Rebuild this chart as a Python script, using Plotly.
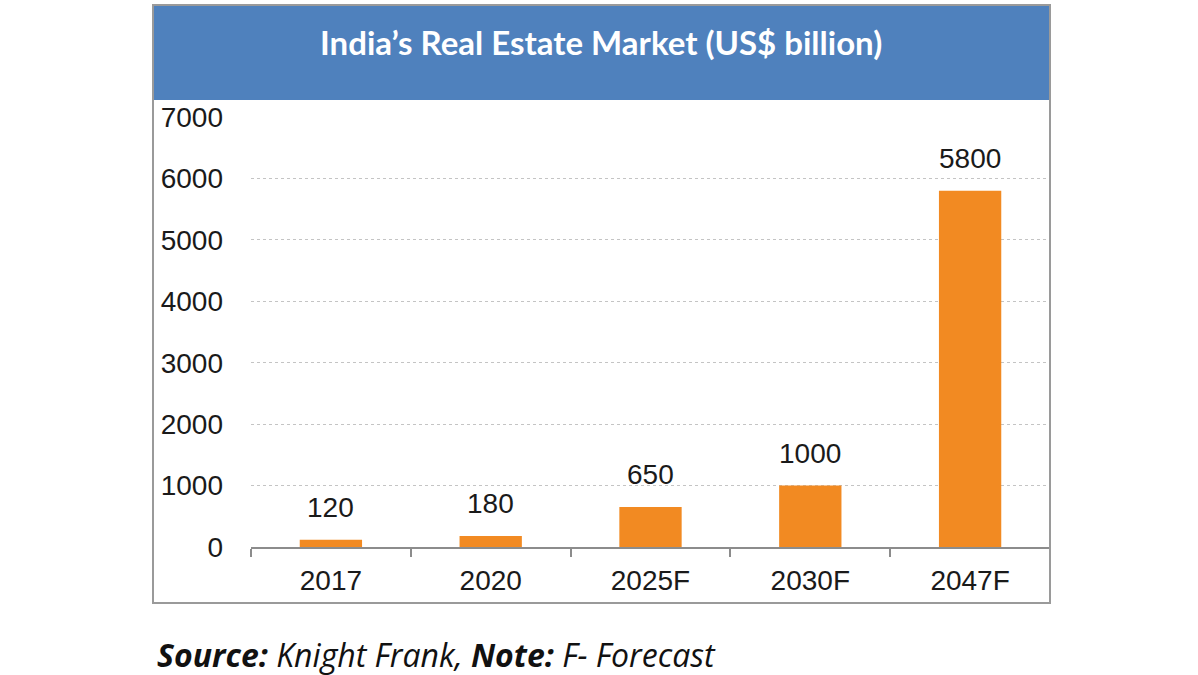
import plotly.graph_objects as go

categories = ["2017", "2020", "2025F", "2030F", "2047F"]
values = [120, 180, 650, 1000, 5800]
labels = ["120", "180", "650", "1000", "5800"]
y_ticks = [0, 1000, 2000, 3000, 4000, 5000, 6000, 7000]

W, H = 1198, 675
L, R, T, B = 251, 1050, 117, 547  # plot area in pixels


def px(x):
    return (x - L) / (R - L)


def py(y):
    return (B - y) / (B - T)


FONT = "Liberation Sans, Arial"

fig = go.Figure()
fig.add_trace(go.Bar(
    x=categories, y=values,
    marker=dict(color="#F28A22", line=dict(width=0)),
    hoverinfo="skip",
))

for i, (v, t) in enumerate(zip(values, labels)):
    fig.add_annotation(x=i, y=v, text=t, showarrow=False, yanchor="bottom",
                       yshift=15, font=dict(family=FONT, size=28, color="#1a1a1a"))

# Title band and outer border
fig.add_shape(type="rect", xref="paper", yref="paper",
              x0=px(153), x1=px(1050), y0=py(100), y1=py(5),
              fillcolor="#4F81BD", line=dict(width=0), layer="below")
fig.add_shape(type="rect", xref="paper", yref="paper",
              x0=px(153), x1=px(1050), y0=py(603), y1=py(5),
              fillcolor="rgba(0,0,0,0)", line=dict(color="#9A9A9A", width=2))

fig.add_annotation(xref="paper", yref="paper", x=px(601), y=py(42),
                   text="<b>India’s Real Estate Market (US$ billion)</b>",
                   showarrow=False, xanchor="center", yanchor="middle",
                   font=dict(family="Lato, Open Sans", size=33, color="white"))

fig.add_annotation(xref="paper", yref="paper", x=px(155), y=py(654),
                   text="<b><i>Source:</i></b><i> Knight Frank, </i><b><i>Note:</i></b><i> F- Forecast</i>",
                   showarrow=False, xanchor="left", yanchor="middle",
                   font=dict(family="Open Sans, Lato", size=32, color="#111111"))

fig.update_layout(
    width=W, height=H,
    margin=dict(l=L, r=W - R, t=T, b=H - B, pad=0),
    paper_bgcolor="white", plot_bgcolor="white",
    showlegend=False,
    bargap=0.61,
    xaxis=dict(
        type="category", range=[-0.5, 4.5],
        showline=True, linecolor="#8C8C8C", linewidth=1.5,
        ticks="outside", tickson="boundaries", ticklen=8, tickcolor="#8C8C8C", tickwidth=1.5,
        tickfont=dict(family=FONT, size=28, color="#1a1a1a"),
        showgrid=False, zeroline=False,
        ticklabelstandoff=8,
    ),
    yaxis=dict(
        range=[0, 7000], tickvals=y_ticks, ticktext=[str(v) for v in y_ticks],
        showline=False, ticks="",
        showgrid=True, gridcolor="#C4C4C4", gridwidth=1, griddash="dot",
        zeroline=False,
        tickfont=dict(family=FONT, size=28, color="#1a1a1a"),
        ticklabelstandoff=27,
    ),
)

fig.write_html("out.html")
